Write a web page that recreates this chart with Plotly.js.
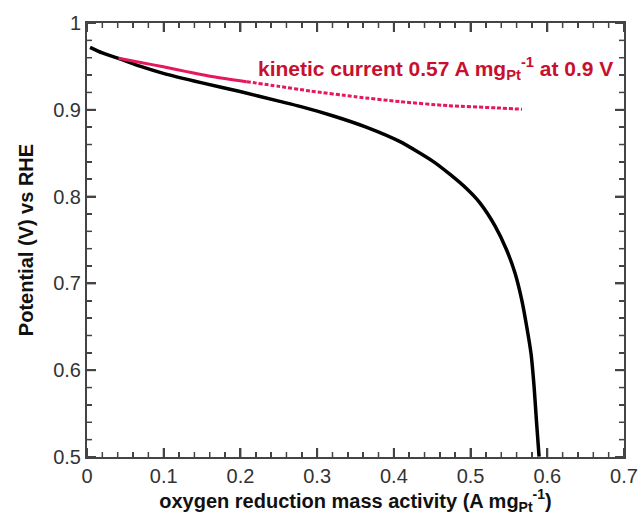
<!DOCTYPE html>
<html>
<head>
<meta charset="utf-8">
<script src="https://cdn.plot.ly/plotly-3.0.1.min.js"></script>
<style>html,body{margin:0;padding:0;background:#fff}.c{width:638px;height:515px;display:inline-block;vertical-align:top}</style>
</head>
<body>
<div id="a" class="c"></div>
<script>
// Measured polarization curve (mass activity, A mg_Pt^-1 vs potential, V)
var massActivity = [0.004, 0.02, 0.041, 0.07, 0.0995, 0.15, 0.1995, 0.25, 0.2777, 0.3212, 0.3647, 0.4081, 0.4515, 0.4733, 0.495, 0.5124, 0.532, 0.547, 0.558, 0.5667, 0.5732, 0.5789, 0.5828, 0.5858, 0.5893];
var potential    = [0.972, 0.9655, 0.9593, 0.950, 0.942, 0.931, 0.921, 0.910, 0.904, 0.8929, 0.8798, 0.8633, 0.8403, 0.8255, 0.809, 0.7925, 0.766, 0.7385, 0.7116, 0.681, 0.650, 0.6185, 0.581, 0.5426, 0.5003];

// Kinetic current curve
var kineticActivity  = [0.041, 0.07, 0.0995, 0.13, 0.1647, 0.208, 0.25, 0.2907, 0.35, 0.408, 0.47, 0.534, 0.567];
var kineticPotential = [0.9593, 0.9545, 0.9495, 0.944, 0.938, 0.9324, 0.927, 0.9217, 0.915, 0.9094, 0.9048, 0.9022, 0.9006];
var kineticSolidCount = 6; // first points drawn solid, rest dashed

var xRange = [0, 0.7];
var yRange = [0.5, 1];
var xMajorTicks = [0, 0.1, 0.2, 0.3, 0.4, 0.5, 0.6, 0.7];
var yMajorTicks = [0.5, 0.6, 0.7, 0.8, 0.9, 1];
var minorPerMajor = 5;

var labelText = "kinetic current 0.57 A mg<sub>Pt</sub><sup>-1</sup> at 0.9 V";
var xTitle = "oxygen reduction mass activity (A mg<sub>Pt</sub><sup>-1</sup>)";
var yTitle = "Potential (V) vs RHE";

var redLine = "#e4185a";
var axisColor = "#444";
var traces = [
  {x: massActivity, y: potential, mode: "lines", line: {color: "#000", width: 3.5, shape: "spline", smoothing: 0.6}},
  {x: kineticActivity.slice(0, kineticSolidCount), y: kineticPotential.slice(0, kineticSolidCount), mode: "lines", line: {color: redLine, width: 3, shape: "spline", smoothing: 0.6}},
  {x: kineticActivity.slice(kineticSolidCount - 1), y: kineticPotential.slice(kineticSolidCount - 1), mode: "lines", line: {color: redLine, width: 3, dash: "4px,2px", shape: "spline", smoothing: 0.6}}
];

// Tick marks drawn inward on all four sides, placed through the axes' own scales
function tickShapes(vals, isX) {
  var out = [];
  var all = [];
  for (var i = 0; i < vals.length; i++) {
    all.push({v: vals[i], len: 9, w: 2});
    if (i < vals.length - 1) {
      var step = (vals[i + 1] - vals[i]) / minorPerMajor;
      for (var j = 1; j < minorPerMajor; j++) all.push({v: vals[i] + step * j, len: 5, w: 1.5});
    }
  }
  all.forEach(function (t) {
    [0, 1].forEach(function (side) {
      var dir = side === 0 ? 1 : -1;
      if (isX) {
        out.push({type: "line", xref: "x", x0: t.v, x1: t.v, yref: "paper", ysizemode: "pixel", yanchor: side, y0: 0, y1: dir * t.len, line: {color: axisColor, width: t.w}});
      } else {
        out.push({type: "line", yref: "y", y0: t.v, y1: t.v, xref: "paper", xsizemode: "pixel", xanchor: side, x0: 0, x1: dir * t.len, line: {color: axisColor, width: t.w}});
      }
    });
  });
  return out;
}

var fontFam = "Liberation Sans, Arial, sans-serif";
function base() {
  return {
    showgrid: false, zeroline: false, showline: true, linecolor: axisColor, linewidth: 2,
    mirror: "allticks", ticks: "inside", ticklen: 9, tickwidth: 2, tickcolor: axisColor,
    dtick: 0.1, tickfont: {family: fontFam, size: 20, color: "#333"},
    minor: {ticks: "inside", ticklen: 5, tickwidth: 1.5, tickcolor: axisColor, dtick: 0.02}
  };
}
var xa = base(), ya = base();
xa.range = xRange; xa.tick0 = 0;
xa.title = {text: xTitle, font: {family: fontFam, size: 20, color: "#111", weight: "bold"}, standoff: 6};
ya.range = yRange; ya.tick0 = 0.5;
ya.title = {text: yTitle, font: {family: fontFam, size: 20, color: "#111", weight: "bold"}, standoff: 14};

var layout = {
  width: 638, height: 515,
  margin: {l: 87, r: 14, t: 23, b: 58},
  showlegend: false,
  xaxis: xa,
  yaxis: ya,
  shapes: tickShapes(xMajorTicks, true).concat(tickShapes(yMajorTicks, false)),
  annotations: [{
    x: 0.2203, y: 0.948, xref: "x", yref: "y", xanchor: "left", yanchor: "middle",
    text: labelText, showarrow: false,
    font: {family: fontFam, size: 21, color: "#c8102e", weight: "bold"}
  }]
};

Plotly.newPlot("a", traces, layout, {staticPlot: true});
</script>
</body>
</html>
